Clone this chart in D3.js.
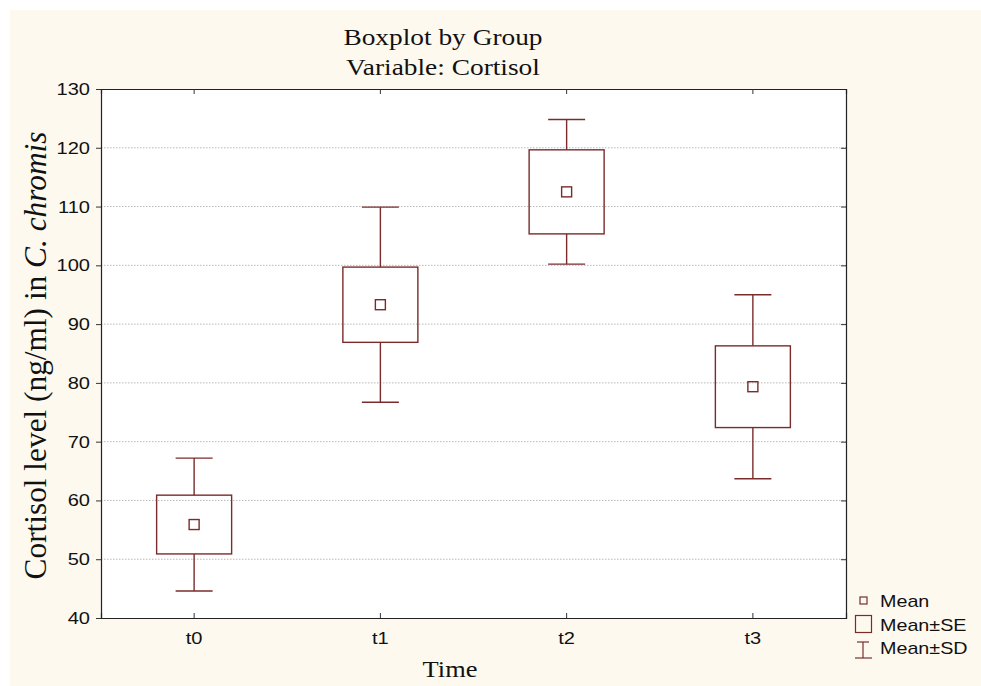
<!DOCTYPE html>
<html>
<head>
<meta charset="utf-8">
<script src="https://cdn.jsdelivr.net/npm/d3@7"></script>
<style>
  html, body { margin: 0; padding: 0; background: #ffffff; }
  svg { display: block; }
</style>
</head>
<body>
<svg id="chart" width="981" height="686"></svg>
<script>
// Cortisol by sampling time: mean, standard error and standard deviation
const groups = ["t0", "t1", "t2", "t3"];
const means  = [55.9, 93.3, 112.5, 79.35];
const se     = [5.0, 6.4, 7.15, 6.95];
const sd     = [11.3, 16.6, 12.3, 15.65];
const yTicks = [40, 50, 60, 70, 80, 90, 100, 110, 120, 130];

const ink = "#7a2c2c";
const W = 981, H = 686;
const m = { left: 101, right: 846, top: 89, bottom: 618 };
const sans = "Liberation Sans, Arial, sans-serif";
const serif = "Liberation Serif, Times New Roman, serif";

// widen glyphs horizontally (the chart's fonts are set a little wide)
function widen(sel, f) {
  sel.each(function () {
    const L = this.getComputedTextLength();
    d3.select(this).attr("textLength", L * f).attr("lengthAdjust", "spacingAndGlyphs");
  });
}

const svg = d3.select("#chart");

// page background
svg.append("rect").attr("x", 10).attr("y", 10)
  .attr("width", W - 10).attr("height", H - 10).attr("fill", "#fdf9ef");
svg.append("rect").attr("x", m.left).attr("y", m.top)
  .attr("width", m.right - m.left).attr("height", m.bottom - m.top).attr("fill", "#ffffff");

const x = d3.scaleBand().domain(groups).range([m.left, m.right]);
const y = d3.scaleLinear().domain([40, 130]).range([m.bottom, m.top]);
const cx = g => x(g) + x.bandwidth() / 2;

// dotted grid
svg.append("g").selectAll("line")
  .data(yTicks.filter(t => t > 40 && t < 130)).join("line")
  .attr("x1", m.left).attr("x2", m.right)
  .attr("y1", d => y(d)).attr("y2", d => y(d))
  .attr("stroke", "#b8b8b8").attr("stroke-width", 1)
  .attr("stroke-dasharray", "1.5,1.5");

// axes
const axLeft = svg.append("g").attr("transform", `translate(${m.left},0)`)
  .call(d3.axisLeft(y).tickValues(yTicks).tickSize(5).tickPadding(6));
const axRight = svg.append("g").attr("transform", `translate(${m.right},0)`)
  .call(d3.axisRight(y).tickValues(yTicks).tickSize(-5).tickFormat(""));
const axBottom = svg.append("g").attr("transform", `translate(0,${m.bottom})`)
  .call(d3.axisBottom(x).tickSize(-5).tickPadding(14));
const axTop = svg.append("g").attr("transform", `translate(0,${m.top})`)
  .call(d3.axisTop(x).tickSize(-5).tickFormat(""));

[axLeft, axRight, axBottom, axTop].forEach(g => {
  g.select(".domain").attr("stroke", "#222").attr("stroke-width", 1.2);
  g.selectAll(".tick line").attr("stroke", "#333");
  g.selectAll("text").attr("font-family", sans)
    .attr("font-size", 17).attr("fill", "#111");
});
widen(axLeft.selectAll("text"), 1.18);
widen(axBottom.selectAll("text"), 1.18);

// whiskers (mean ± SD), SE boxes and mean markers
const cap = 37, box = 75, dot = 10;
const marks = svg.append("g").attr("fill", "none").attr("stroke", ink).attr("stroke-width", 1.4);
groups.forEach((g, i) => {
  const c = cx(g);
  const hi = means[i] + sd[i], lo = means[i] - sd[i];
  const sHi = means[i] + se[i], sLo = means[i] - se[i];
  marks.append("line").attr("x1", c).attr("x2", c).attr("y1", y(hi)).attr("y2", y(sHi));
  marks.append("line").attr("x1", c).attr("x2", c).attr("y1", y(sLo)).attr("y2", y(lo));
  marks.append("line").attr("x1", c - cap / 2).attr("x2", c + cap / 2).attr("y1", y(hi)).attr("y2", y(hi));
  marks.append("line").attr("x1", c - cap / 2).attr("x2", c + cap / 2).attr("y1", y(lo)).attr("y2", y(lo));
  marks.append("rect").attr("x", c - box / 2).attr("y", y(sHi))
    .attr("width", box).attr("height", y(sLo) - y(sHi));
  marks.append("rect").attr("x", c - dot / 2).attr("y", y(means[i]) - dot / 2)
    .attr("width", dot).attr("height", dot);
});

// titles
const t1 = svg.append("text").attr("x", 443).attr("y", 45).attr("text-anchor", "middle")
  .attr("font-family", serif).attr("font-size", 24).attr("fill", "#111").text("Boxplot by Group");
const t2 = svg.append("text").attr("x", 443).attr("y", 75).attr("text-anchor", "middle")
  .attr("font-family", serif).attr("font-size", 24).attr("fill", "#111").text("Variable: Cortisol");
const tx = svg.append("text").attr("x", 450).attr("y", 677).attr("text-anchor", "middle")
  .attr("font-family", serif).attr("font-size", 24).attr("fill", "#111").text("Time");
widen(t1, 1.14); widen(t2, 1.14); widen(tx, 1.1);

const yl = svg.append("text")
  .attr("transform", `translate(46,${(m.top + m.bottom) / 2 + 2}) rotate(-90)`)
  .attr("text-anchor", "middle").attr("font-family", serif).attr("font-size", 28).attr("fill", "#111");
yl.append("tspan").text("Cortisol level (ng/ml) in ");
yl.append("tspan").attr("font-style", "italic").text("C. chromis");
// span of the rotated axis title
{
  const L = yl.node().getComputedTextLength();
  yl.attr("font-size", 28 * 448 / L);
}

// legend
const lg = svg.append("g");
lg.append("rect").attr("x", 860).attr("y", 597).attr("width", 7).attr("height", 7)
  .attr("fill", "none").attr("stroke", ink).attr("stroke-width", 1.2);
lg.append("rect").attr("x", 855.5).attr("y", 615.5).attr("width", 16).attr("height", 17)
  .attr("fill", "none").attr("stroke", ink).attr("stroke-width", 1.2);
lg.append("line").attr("x1", 857).attr("x2", 869).attr("y1", 642).attr("y2", 642).attr("stroke", ink).attr("stroke-width", 1.2);
lg.append("line").attr("x1", 863).attr("x2", 863).attr("y1", 642).attr("y2", 658).attr("stroke", ink).attr("stroke-width", 1.2);
lg.append("line").attr("x1", 855).attr("x2", 872).attr("y1", 658).attr("y2", 658).attr("stroke", ink).attr("stroke-width", 1.2);
const lt = lg.selectAll("text.lg").data([["Mean", 607], ["Mean±SE", 631], ["Mean±SD", 654]]).join("text")
  .attr("class", "lg").attr("x", 880).attr("y", d => d[1]).attr("font-family", sans)
  .attr("font-size", 17).attr("fill", "#111").text(d => d[0]);
widen(lt, 1.16);
</script>
</body>
</html>
